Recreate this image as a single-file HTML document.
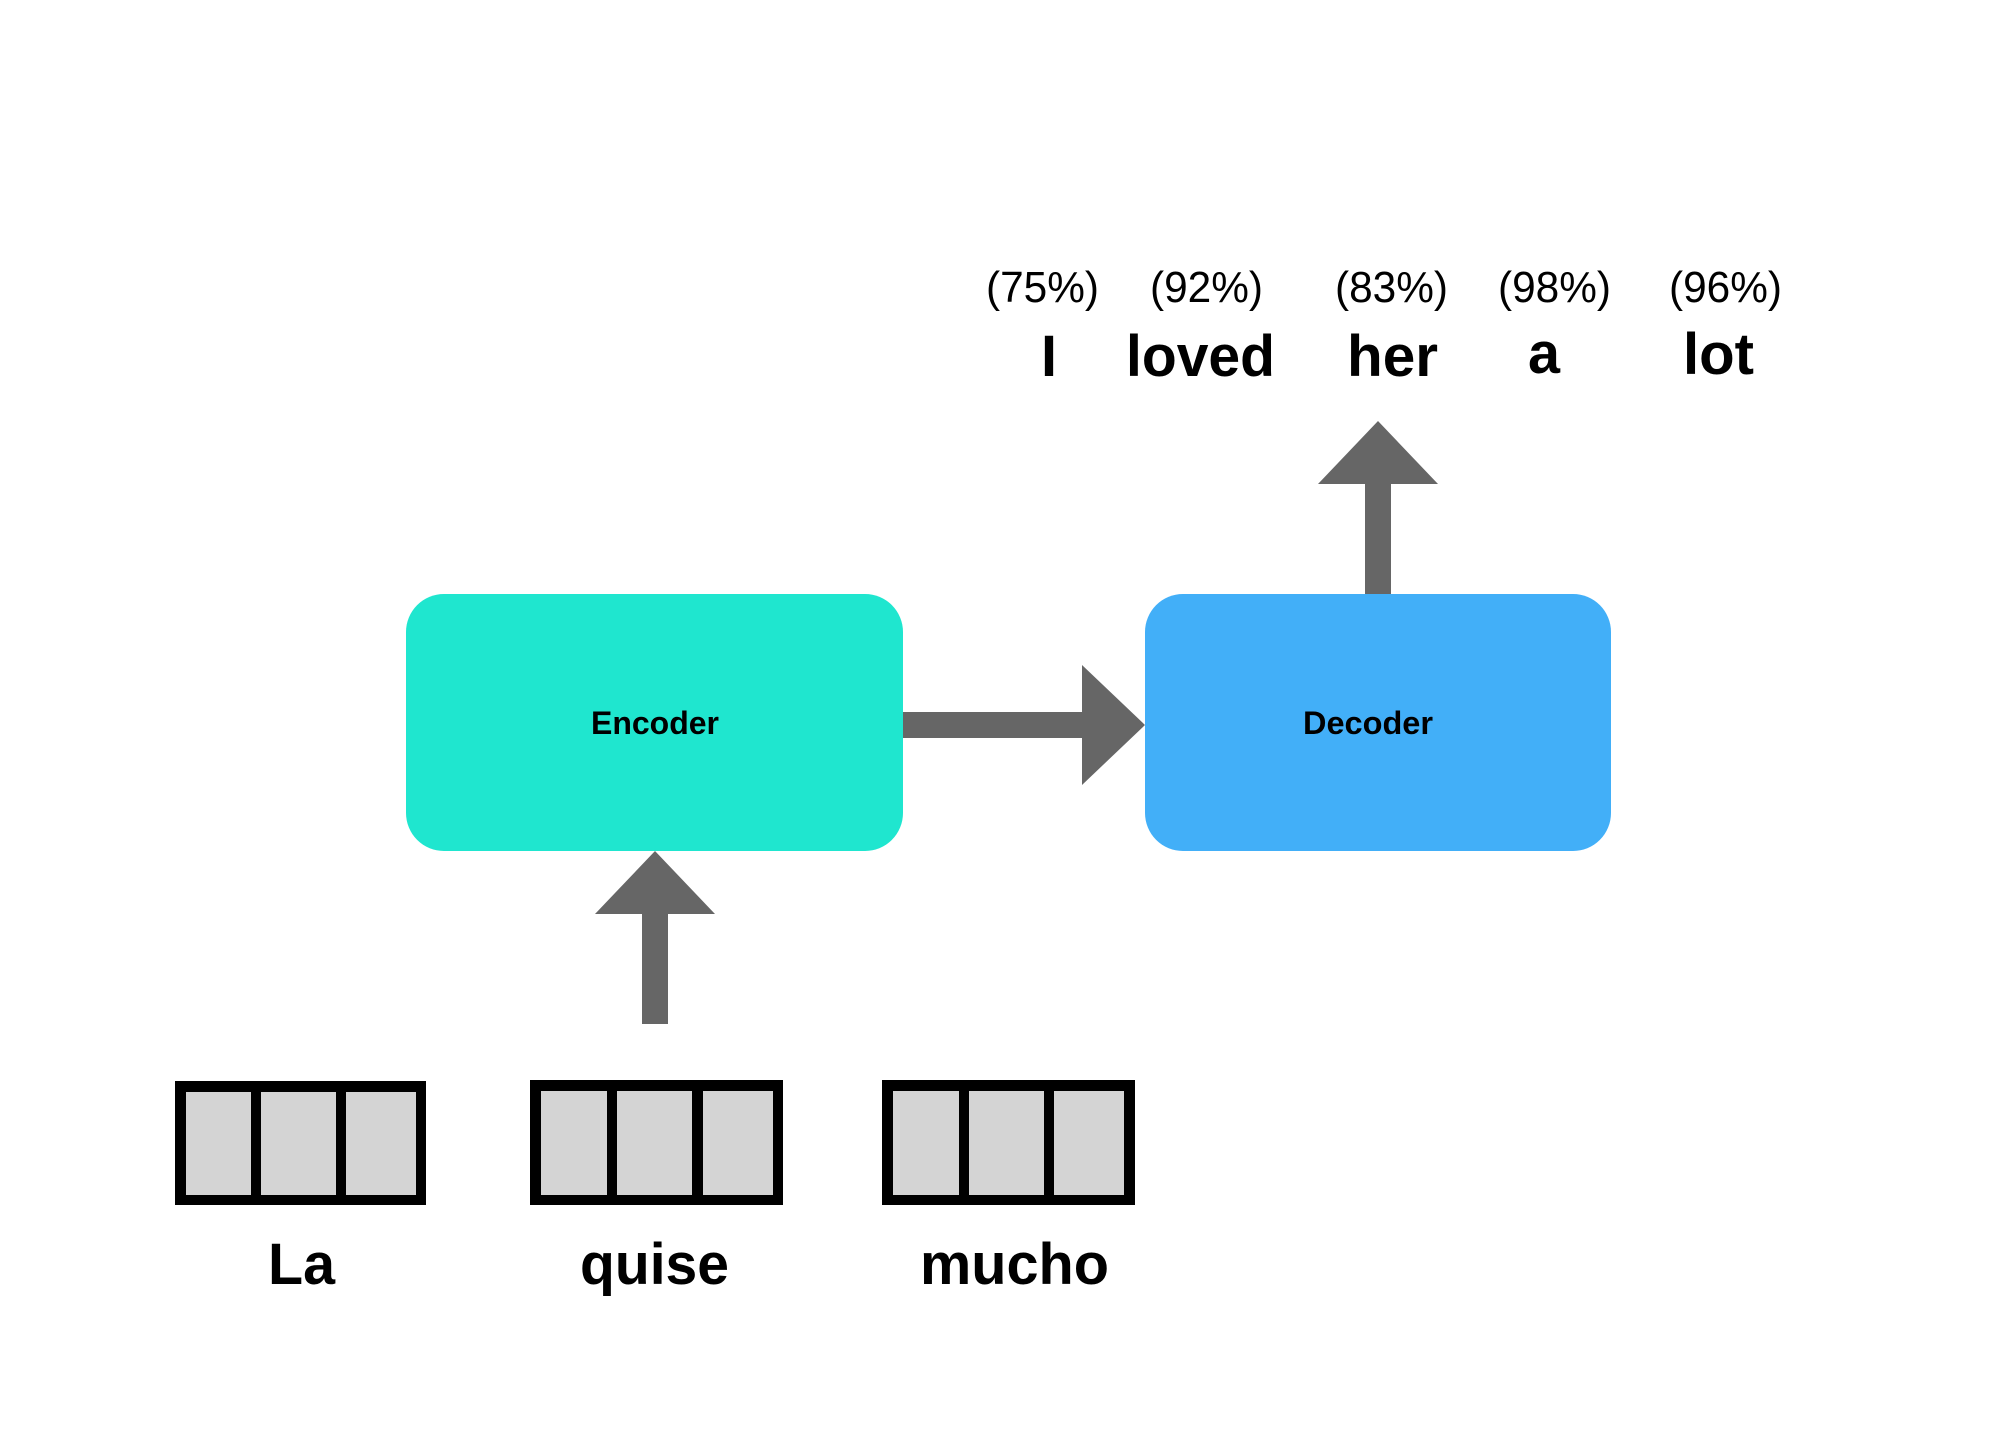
<!DOCTYPE html>
<html>
<head>
<meta charset="utf-8">
<style>
html,body{margin:0;padding:0;background:#fff;}
svg{display:block;}
.b{font-family:"Liberation Sans",sans-serif;font-weight:700;fill:#000;}
.r{font-family:"Liberation Sans",sans-serif;font-weight:400;fill:#000;}
</style>
</head>
<body>
<svg width="2000" height="1451" viewBox="0 0 2000 1451" xmlns="http://www.w3.org/2000/svg">
<rect width="2000" height="1451" fill="#fff"/>

<!-- Boxes -->
<rect x="406" y="594" width="497" height="257" rx="38" fill="#1fe6cf"/>
<rect x="1145" y="594" width="466" height="257" rx="38" fill="#42aff8"/>

<!-- Arrows -->
<polygon points="903,712 1082,712 1082,665 1145,725 1082,785 1082,738 903,738" fill="#666"/>
<polygon points="642,1024 642,914 595,914 655,851 715,914 668,914 668,1024" fill="#666"/>
<polygon points="1365,594 1365,484 1318,484 1378,421 1438,484 1391,484 1391,594" fill="#666"/>

<!-- Word vectors -->
<rect x="175" y="1081" width="251" height="124" fill="#000"/>
<rect x="530" y="1080" width="253" height="125" fill="#000"/>
<rect x="882" y="1080" width="253" height="125" fill="#000"/>
<g fill="#d4d4d4">
<rect x="186" y="1092" width="65" height="103"/>
<rect x="261" y="1092" width="75" height="103"/>
<rect x="346" y="1092" width="70" height="103"/>
<rect x="541" y="1091" width="66" height="104"/>
<rect x="617" y="1091" width="75" height="104"/>
<rect x="703" y="1091" width="70" height="104"/>
<rect x="893" y="1091" width="66" height="104"/>
<rect x="969" y="1091" width="75" height="104"/>
<rect x="1054" y="1091" width="70" height="104"/>
</g>

<!-- Box labels -->
<text class="b" x="591" y="734" font-size="32" textLength="128" lengthAdjust="spacingAndGlyphs">Encoder</text>
<text class="b" x="1303" y="734" font-size="32" textLength="130" lengthAdjust="spacingAndGlyphs">Decoder</text>

<!-- Percentages -->
<g class="r" font-size="44">
<text x="986" y="302" textLength="113" lengthAdjust="spacingAndGlyphs">(75%)</text>
<text x="1150" y="302" textLength="113" lengthAdjust="spacingAndGlyphs">(92%)</text>
<text x="1335" y="302" textLength="113" lengthAdjust="spacingAndGlyphs">(83%)</text>
<text x="1498" y="302" textLength="113" lengthAdjust="spacingAndGlyphs">(98%)</text>
<text x="1669" y="302" textLength="113" lengthAdjust="spacingAndGlyphs">(96%)</text>
</g>

<!-- Output words -->
<g class="b" font-size="58">
<text x="1041" y="376" textLength="16" lengthAdjust="spacingAndGlyphs">I</text>
<text x="1126" y="376" textLength="149" lengthAdjust="spacingAndGlyphs">loved</text>
<text x="1347" y="376" textLength="91" lengthAdjust="spacingAndGlyphs">her</text>
<text x="1528" y="373" textLength="32" lengthAdjust="spacingAndGlyphs">a</text>
<text x="1683" y="374" textLength="71" lengthAdjust="spacingAndGlyphs">lot</text>
</g>

<!-- Input words -->
<g class="b" font-size="58">
<text x="268" y="1284" textLength="67" lengthAdjust="spacingAndGlyphs">La</text>
<text x="580" y="1284" textLength="149" lengthAdjust="spacingAndGlyphs">quise</text>
<text x="920" y="1284" textLength="189" lengthAdjust="spacingAndGlyphs">mucho</text>
</g>
</svg>
</body>
</html>
